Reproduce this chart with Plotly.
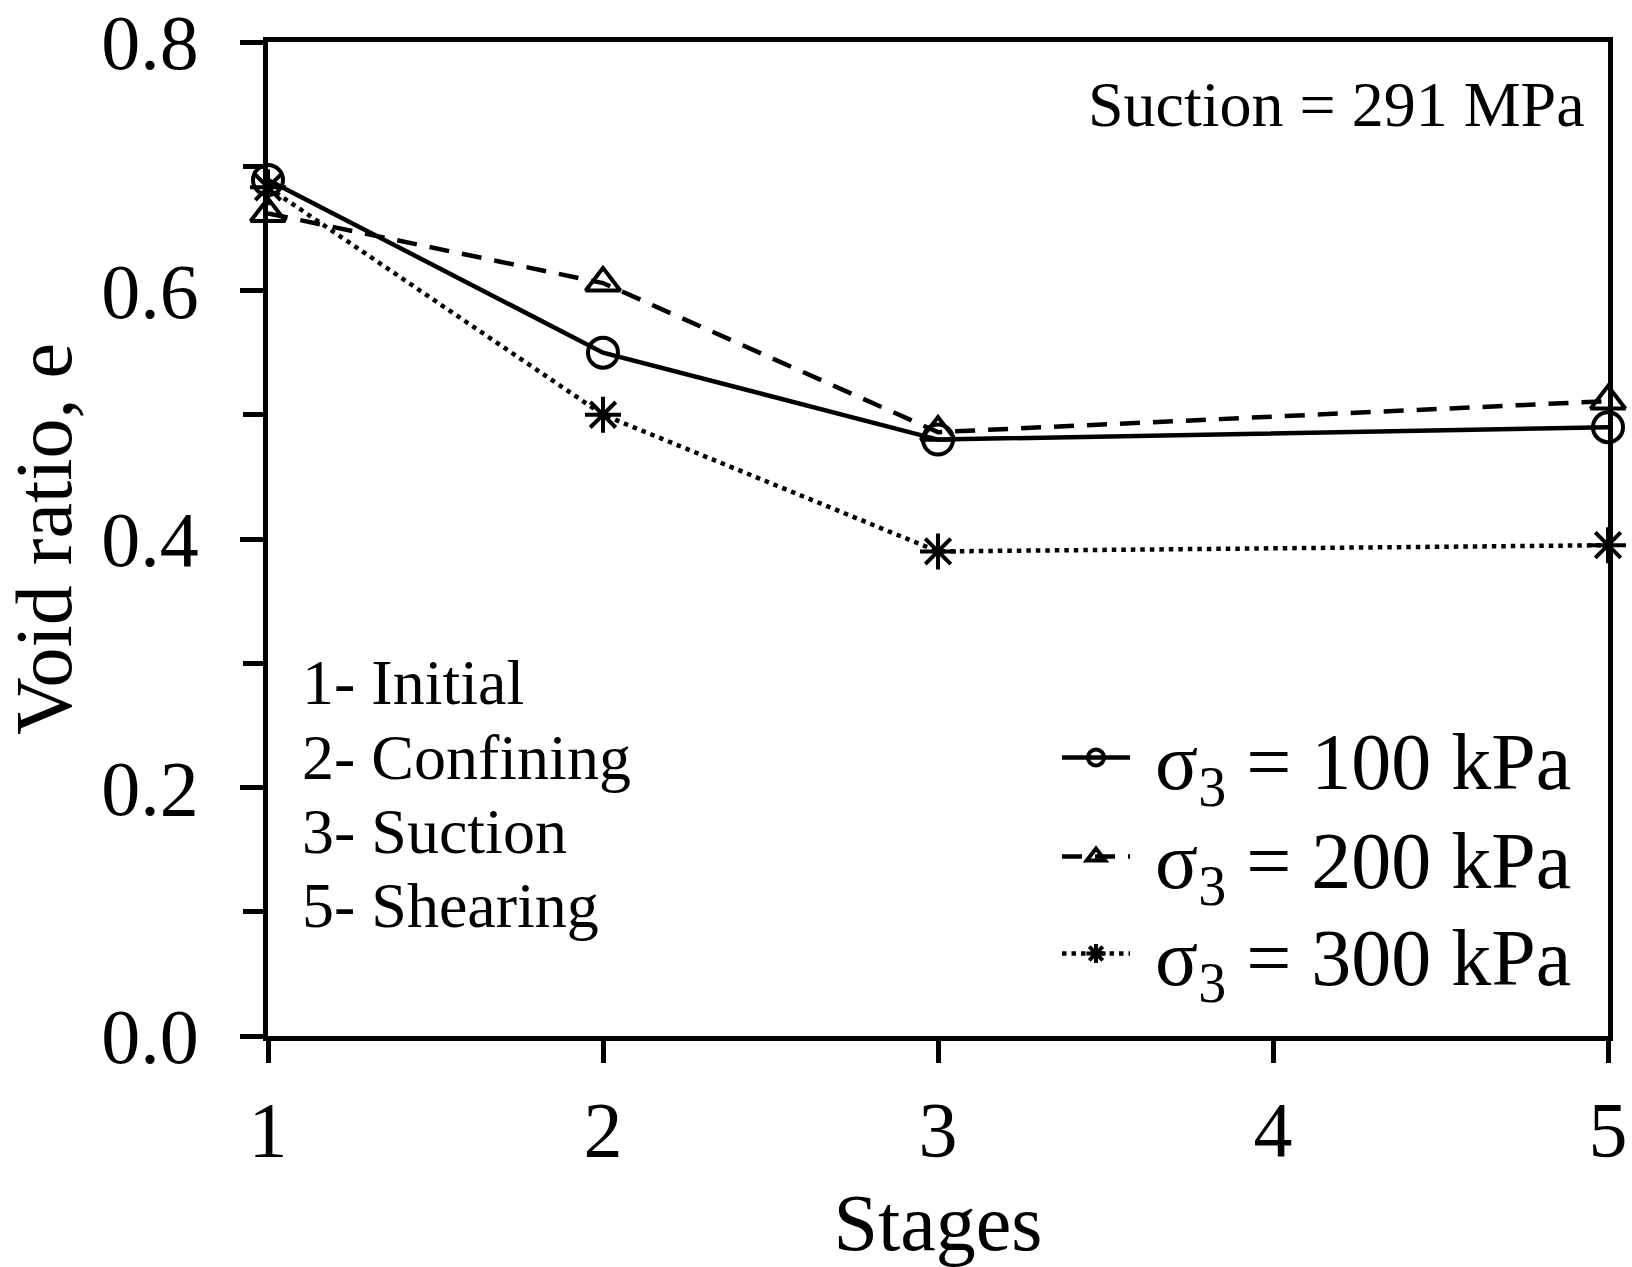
import plotly.graph_objects as go

stages = [1, 2, 3, 5]
e_100 = [0.689, 0.550, 0.480, 0.490]
e_200 = [0.662, 0.606, 0.486, 0.511]
e_300 = [0.683, 0.500, 0.390, 0.395]
series_names = ["σ<sub>3</sub> = 100 kPa", "σ<sub>3</sub> = 200 kPa", "σ<sub>3</sub> = 300 kPa"]
y_ticks = [0.0, 0.2, 0.4, 0.6, 0.8]
x_ticks = [1, 2, 3, 4, 5]
stage_notes = ["1- Initial", "2- Confining", "3- Suction", "5- Shearing"]
suction_note = "Suction = 291 MPa"

FONT = "Liberation Serif, Times New Roman, serif"
PAD = "\u00a0"

fig = go.Figure()
fig.add_trace(go.Scatter(
    x=stages, y=e_100, name=PAD + series_names[0], mode="lines+markers",
    line=dict(color="black", width=4.5, dash="solid"),
    marker=dict(symbol="circle-open", size=30, color="black", line=dict(width=4)),
    cliponaxis=False, legend="legend"))
fig.add_trace(go.Scatter(
    x=stages, y=e_200, name=PAD + series_names[1], mode="lines+markers",
    line=dict(color="black", width=4.5, dash="20px,13px"),
    marker=dict(symbol="triangle-up-open", size=30, color="black", line=dict(width=4)),
    cliponaxis=False, legend="legend2"))
fig.add_trace(go.Scatter(
    x=stages, y=e_300, name=PAD + series_names[2], mode="lines+markers",
    line=dict(color="black", width=4.5, dash="4.5px,5px"),
    marker=dict(symbol="asterisk-open", size=30, color="black", line=dict(width=4)),
    cliponaxis=False, legend="legend3"))

axis_common = dict(
    showline=True, linecolor="black", linewidth=4.5, mirror=True,
    ticks="outside", tickwidth=4.5, tickcolor="black",
    showgrid=False, zeroline=False, automargin=False,
    ticklabeloverflow="allow",
    tickfont=dict(family=FONT, size=78, color="black"),
)

fig.update_xaxes(
    range=[1, 5], tickvals=x_ticks, ticktext=[str(v) for v in x_ticks], ticklen=22,
    title=dict(text="Stages", font=dict(family=FONT, size=80, color="black"), standoff=25),
    **axis_common)
fig.update_yaxes(
    range=[0, 0.8], tickvals=y_ticks, ticktext=[f"{v:.1f}" for v in y_ticks], ticklen=23,
    ticklabelstandoff=26,
    minor=dict(dtick=0.1, ticks="outside", ticklen=20, tickwidth=4.5, tickcolor="black"),
    title=dict(text="Void ratio, e", font=dict(family=FONT, size=80, color="black"), standoff=20),
    **axis_common)

fig.add_annotation(
    text=suction_note, xref="paper", yref="paper", x=0.984, y=0.9376,
    xanchor="right", yanchor="middle", showarrow=False,
    font=dict(family=FONT, size=64, color="black"))

note_y_px = [682, 757, 831, 905]
for txt, ypx in zip(stage_notes, note_y_px):
    fig.add_annotation(
        text=txt, xref="paper", yref="paper", x=(300 - 268) / 1340, y=(1036 - ypx) / 994,
        xanchor="left", yanchor="middle", showarrow=False,
        font=dict(family=FONT, size=64, color="black"))

legend_tops_px = [699, 798, 895]
legend_common = dict(
    x=(1057 - 268) / 1340, xanchor="left", yanchor="top",
    bgcolor="rgba(0,0,0,0)", itemwidth=68,
    font=dict(family=FONT, size=80, color="black"),
)

fig.update_layout(
    width=1632, height=1267,
    margin=dict(l=268, r=24, t=42, b=231),
    paper_bgcolor="white", plot_bgcolor="white",
    font=dict(family=FONT, color="black"),
    legend=dict(y=(1036 - legend_tops_px[0]) / 994, **legend_common),
    legend2=dict(y=(1036 - legend_tops_px[1]) / 994, **legend_common),
    legend3=dict(y=(1036 - legend_tops_px[2]) / 994, **legend_common),
    showlegend=True,
)

fig.write_html("out.html")
